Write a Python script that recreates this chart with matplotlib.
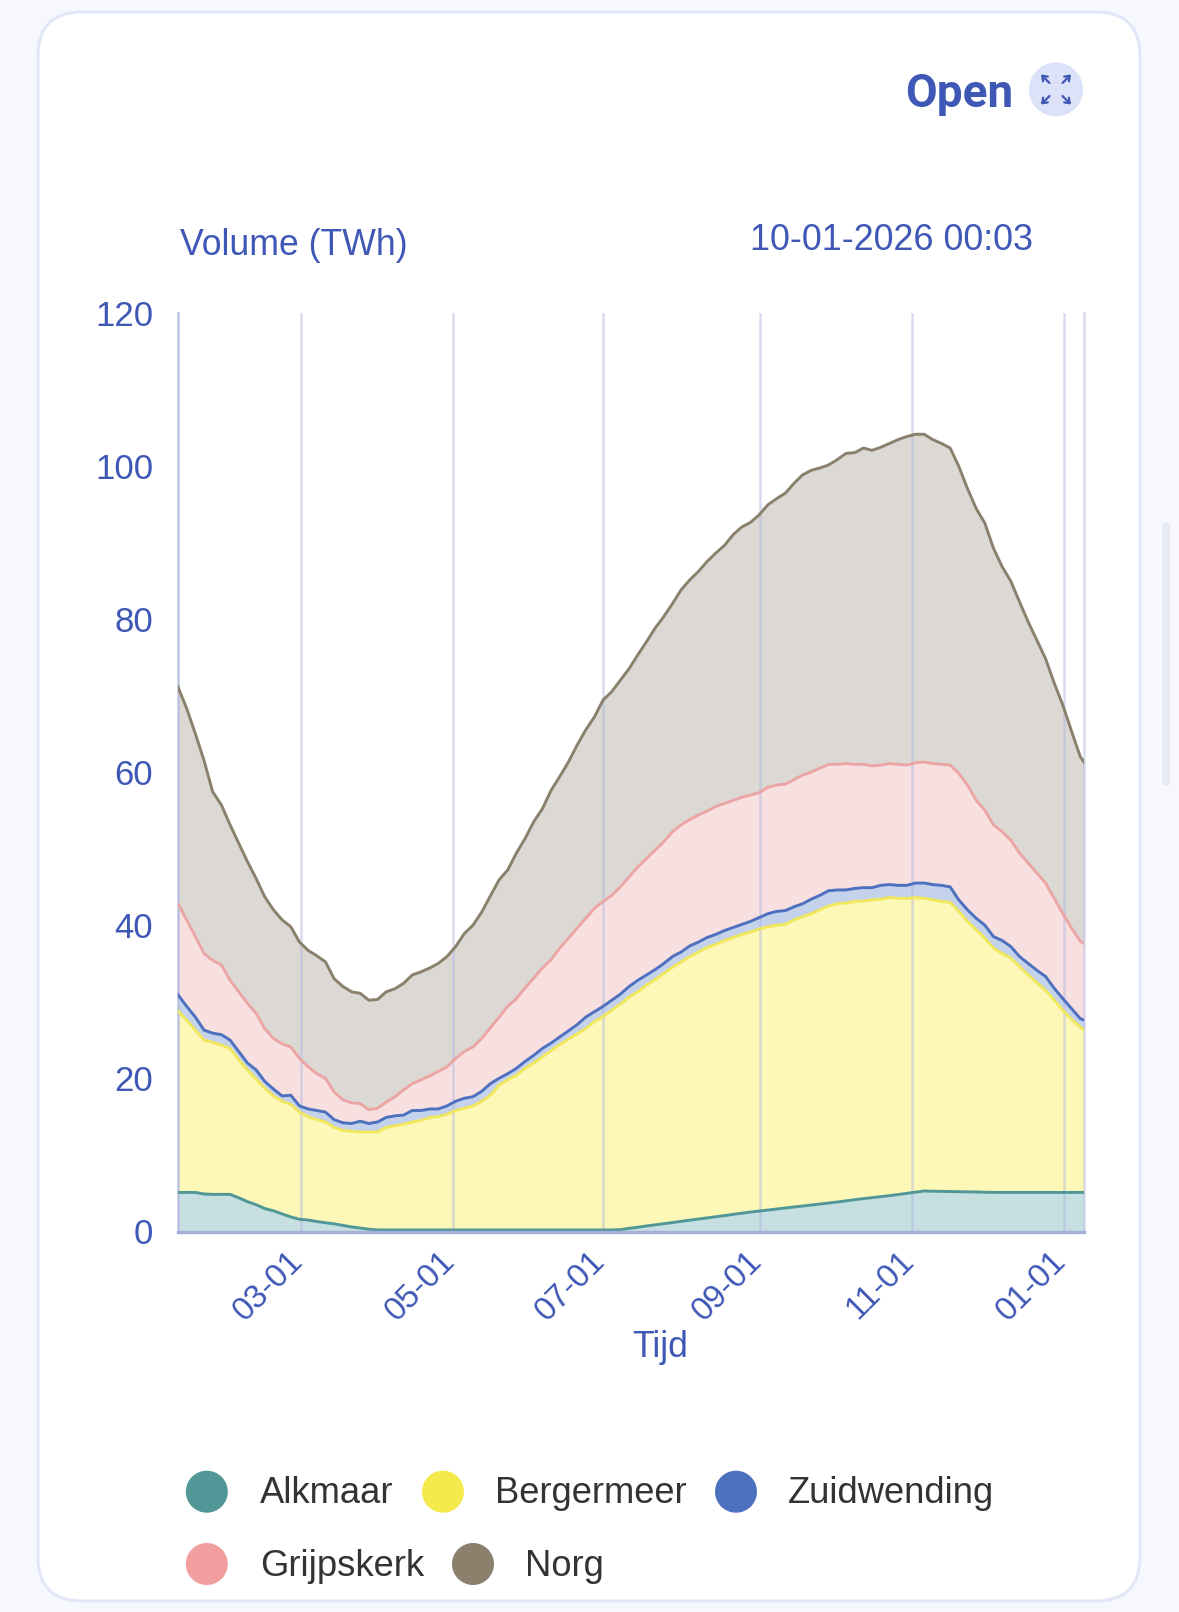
import numpy as np
import pandas as pd
import matplotlib
matplotlib.use("Agg")
import matplotlib.pyplot as plt
from matplotlib.patches import FancyBboxPatch, Circle
from matplotlib.transforms import ScaledTranslation

plt.rcParams['font.family'] = ['Liberation Sans', 'DejaVu Sans']

# Sample dates: readings about every 3.5 days plus the closing reading
start_date = pd.Timestamp('2025-01-10 12:00')
end_date = pd.Timestamp('2026-01-08 21:36')
dates = list(pd.date_range(start_date, periods=105, freq='5011min')) + [end_date]

# Readings of the stacked boundaries (TWh), bottom to top
alkmaar_stack = [5.1, 5.1, 5.1, 4.9, 4.85, 4.85, 4.85, 4.4, 3.9, 3.5, 3.0, 2.7, 2.3, 1.9, 1.6, 1.5, 1.3, 1.15, 1.0, 0.8,
                 0.6, 0.45, 0.3, 0.2, 0.2, 0.2, 0.2, 0.2, 0.2, 0.2, 0.2, 0.2, 0.2, 0.2, 0.2, 0.2, 0.2, 0.2, 0.2, 0.2,
                 0.2, 0.2, 0.2, 0.2, 0.2, 0.2, 0.2, 0.2, 0.2, 0.2, 0.2, 0.25, 0.41, 0.56, 0.72, 0.87, 1.02, 1.17, 1.33, 1.48,
                 1.63, 1.78, 1.93, 2.08, 2.24, 2.39, 2.54, 2.67, 2.8, 2.93, 3.07, 3.2, 3.33, 3.46, 3.59, 3.72, 3.85, 4.0, 4.16, 4.29,
                 4.42, 4.55, 4.68, 4.83, 4.98, 5.14, 5.29, 5.26, 5.24, 5.22, 5.2, 5.18, 5.16, 5.13, 5.11, 5.1, 5.1, 5.1, 5.1, 5.1,
                 5.1, 5.1, 5.1, 5.1, 5.1, 5.1]
bergermeer_stack = [28.8, 27.6, 26.3, 25.0, 24.7, 24.35, 23.9, 22.4, 21.1, 19.9, 18.7, 17.7, 17.0, 16.6, 15.6, 15.0, 14.6, 14.3, 13.6, 13.2,
                    13.1, 13.0, 13.0, 13.0, 13.6, 13.8, 14.0, 14.3, 14.5, 14.9, 15.0, 15.3, 15.8, 16.1, 16.4, 17.0, 17.8, 19.1, 19.8, 20.4,
                    21.3, 22.0, 22.8, 23.6, 24.4, 25.1, 25.8, 26.5, 27.4, 28.1, 28.9, 29.7, 30.6, 31.3, 32.2, 32.9, 33.7, 34.5, 35.2, 35.9,
                    36.5, 37.1, 37.5, 38.0, 38.4, 38.8, 39.1, 39.5, 39.8, 40.0, 40.1, 40.7, 41.1, 41.5, 42.0, 42.5, 42.8, 42.9, 43.1, 43.15,
                    43.3, 43.4, 43.6, 43.5, 43.5, 43.6, 43.5, 43.3, 43.1, 43.0, 41.8, 40.5, 39.4, 38.3, 37.0, 36.3, 35.7, 34.6, 33.5, 32.5,
                    31.5, 30.2, 28.9, 27.7, 26.7, 26.3]
zuidwending_stack = [30.9, 29.4, 28.0, 26.3, 25.9, 25.7, 25.0, 23.5, 22.0, 21.1, 19.6, 18.6, 17.7, 17.8, 16.4, 16.0, 15.8, 15.6, 14.6, 14.2,
                     14.1, 14.4, 14.1, 14.3, 14.9, 15.1, 15.2, 15.8, 15.8, 16.0, 16.0, 16.4, 17.0, 17.4, 17.6, 18.3, 19.3, 20.0, 20.6, 21.3,
                     22.2, 23.0, 23.9, 24.6, 25.4, 26.2, 27.0, 28.0, 28.7, 29.4, 30.2, 31.0, 32.0, 32.8, 33.5, 34.2, 35.0, 35.9, 36.5, 37.3,
                     37.8, 38.4, 38.8, 39.3, 39.7, 40.1, 40.5, 41.0, 41.5, 41.8, 41.9, 42.4, 42.8, 43.4, 43.9, 44.5, 44.6, 44.6, 44.8, 44.9,
                     44.9, 45.2, 45.3, 45.2, 45.2, 45.5, 45.5, 45.3, 45.2, 45.0, 43.3, 42.0, 40.9, 40.0, 38.5, 38.0, 37.2, 35.9, 35.0, 34.1,
                     33.3, 31.75, 30.4, 29.1, 27.8, 27.6]
grijpskerk_stack = [42.8, 40.7, 38.5, 36.3, 35.4, 34.8, 32.8, 31.3, 29.8, 28.5, 26.5, 25.2, 24.5, 24.1, 22.6, 21.5, 20.6, 20.0, 18.2, 17.2,
                    16.8, 16.7, 15.9, 16.1, 16.9, 17.6, 18.5, 19.3, 19.8, 20.3, 20.9, 21.5, 22.6, 23.5, 24.1, 25.2, 26.6, 27.96, 29.4, 30.4,
                    31.8, 33.1, 34.4, 35.5, 37.0, 38.3, 39.6, 40.9, 42.2, 43.1, 43.9, 45.0, 46.3, 47.6, 48.7, 49.8, 50.9, 52.2, 53.1, 53.8,
                    54.4, 54.9, 55.5, 55.9, 56.3, 56.7, 57.0, 57.3, 58.0, 58.3, 58.4, 59.0, 59.6, 60.0, 60.5, 61.0, 61.0, 61.1, 61.0, 61.0,
                    60.8, 60.9, 61.1, 61.0, 60.9, 61.2, 61.3, 61.1, 61.0, 60.9, 59.8, 58.3, 56.3, 55.0, 53.1, 52.2, 51.1, 49.4, 48.1, 46.8,
                    45.5, 43.5, 41.5, 39.6, 37.9, 37.6]
norg_stack = [71.1, 68.3, 65.0, 61.5, 57.4, 55.7, 53.1, 50.7, 48.3, 46.1, 43.7, 42.0, 40.7, 39.8, 37.8, 36.7, 36.0, 35.2, 33.0, 32.0,
              31.3, 31.1, 30.2, 30.3, 31.3, 31.7, 32.4, 33.5, 33.9, 34.4, 35.0, 35.9, 37.2, 38.9, 40.0, 41.7, 43.8, 45.9, 47.2, 49.4,
              51.3, 53.5, 55.2, 57.6, 59.4, 61.3, 63.5, 65.5, 67.2, 69.4, 70.5, 72.0, 73.5, 75.3, 77.0, 78.8, 80.3, 82.0, 83.8, 85.1,
              86.2, 87.5, 88.6, 89.6, 91.0, 92.0, 92.6, 93.6, 94.9, 95.7, 96.4, 97.7, 98.8, 99.4, 99.7, 100.1, 100.8, 101.6, 101.7, 102.3,
              102.0, 102.4, 102.9, 103.4, 103.8, 104.1, 104.1, 103.4, 102.9, 102.3, 99.9, 97.0, 94.4, 92.5, 89.2, 86.8, 84.9, 82.2, 79.6, 77.2,
              74.8, 71.6, 68.7, 65.3, 62.0, 61.3]

series_names = ['Alkmaar', 'Bergermeer', 'Zuidwending', 'Grijpskerk', 'Norg']
y_ticks = [0, 20, 40, 60, 80, 100, 120]
x_tick_dates = ['2025-03-01', '2025-05-01', '2025-06-30', '2025-09-01', '2025-11-01', '2026-01-01']
x_tick_labels = ['03-01', '05-01', '07-01', '09-01', '11-01', '01-01']

W, H = 1179, 1612
BLUE_TEXT = '#3F57B5'
LINES = ['#529797', '#F0E75C', '#4D70BF', '#EBA5A5', '#8A806C']
FILLS = ['#C6DFE0', '#FDF8B8', '#C5D2EC', '#F9E0E0', '#DCD9D5']
DOTS = ['#529797', '#F4EA4C', '#4D70BF', '#F09E9E', '#8A806C']

fig = plt.figure(figsize=(W / 100, H / 100), dpi=100, facecolor='#F6F8FE')

# Pixel overlay for the card and furniture
bg = fig.add_axes([0, 0, 1, 1], zorder=0)
bg.set_xlim(0, W); bg.set_ylim(H, 0); bg.axis('off')
bg.add_patch(FancyBboxPatch((38, 12), 1102, 1589, boxstyle='round,pad=0,rounding_size=44',
                            fc='white', ec='#E2E7F8', lw=2.2))
bg.add_patch(FancyBboxPatch((1162, 522), 8, 264, boxstyle='round,pad=0,rounding_size=4',
                            fc='#E8EBF4', ec='none'))

# Chart
L, R, T, B = 178, 1084, 312.5, 1231.5
ax = fig.add_axes([L / W, 1 - B / H, (R - L) / W, (B - T) / H], zorder=1)
ax.patch.set_alpha(0)
ax.set_xlim(start_date, end_date)
ax.set_ylim(0, 120)
for s in ax.spines.values():
    s.set_visible(False)

stacks = [alkmaar_stack, bergermeer_stack, zuidwending_stack, grijpskerk_stack, norg_stack]
lower = np.zeros(len(dates))
for vals, fc in zip(stacks, FILLS):
    ax.fill_between(dates, lower, vals, color=fc, lw=0, zorder=1)
    lower = np.array(vals)

for d in x_tick_dates:
    ax.axvline(pd.Timestamp(d), color='#B0B9E0', alpha=0.5, lw=1.8, zorder=2)
ax.axvline(start_date, color='#B4BEDF', alpha=0.9, lw=1.8, zorder=2, clip_on=False)
ax.axvline(end_date, color='#B0B9E0', alpha=0.5, lw=1.8, zorder=2, clip_on=False)

for vals, lc in zip(stacks, LINES):
    ax.plot(dates, vals, color=lc, lw=2.1, zorder=3, solid_joinstyle='round')

ax.axhline(0, color='#A5AEDB', lw=2.4, zorder=4, clip_on=False, solid_capstyle='projecting')

ax.set_yticks(y_ticks)
ax.set_yticklabels([str(v) for v in y_ticks])
ax.tick_params(axis='y', length=0, pad=18, labelsize=25, labelcolor=BLUE_TEXT)
ax.set_xticks([pd.Timestamp(d) for d in x_tick_dates])
ax.set_xticklabels(x_tick_labels, rotation=45, ha='right', va='top', rotation_mode='anchor')
ax.tick_params(axis='x', length=0, pad=10, labelsize=23.8, labelcolor=BLUE_TEXT)
shift = ScaledTranslation(-14 / 100, 0, fig.dpi_scale_trans)
for lab in ax.get_xticklabels():
    lab.set_transform(lab.get_transform() + shift)

# Overlay for text above everything
fg = fig.add_axes([0, 0, 1, 1], zorder=2)
fg.set_xlim(0, W); fg.set_ylim(H, 0); fg.axis('off'); fg.patch.set_alpha(0)

fg.text(180, 255, 'Volume (TWh)', fontsize=25.7, color=BLUE_TEXT, va='baseline')
fg.text(750, 250.5, '10-01-2026 00:03', fontsize=25.8, color=BLUE_TEXT, va='baseline')
fg.text(632, 1357, 'Tijd', fontsize=25.7, color=BLUE_TEXT, va='baseline')
fg.text(905, 107, 'Open', fontsize=33, fontweight='bold', family='Roboto', color=BLUE_TEXT, va='baseline')

# Expand icon
cx, cy = 1056, 89.5
fg.add_patch(Circle((cx, cy), 27, fc='#DCE3F8', ec='none'))
for sx in (-1, 1):
    for sy in (-1, 1):
        fg.annotate('', xy=(cx + sx * 15, cy + sy * 15), xytext=(cx + sx * 6.5, cy + sy * 6.5),
                    arrowprops=dict(arrowstyle='->,head_length=0.32,head_width=0.24', color=BLUE_TEXT, lw=1.6,
                                    shrinkA=0, shrinkB=0))

# Legend
legend_dot_x = [206.8, 443, 736, 206.8, 473]
legend_text_x = [259.8, 494.5, 788, 259.8, 524.5]
legend_row_y = [1491.7, 1491.7, 1491.7, 1564, 1564]
for name, dc, dx, tx, ry in zip(series_names, DOTS, legend_dot_x, legend_text_x, legend_row_y):
    fg.add_patch(Circle((dx, ry), 21, fc=dc, ec='none'))
    fg.text(tx, ry + 11.5, name, fontsize=26.2, color='#333333', va='baseline')

fig.savefig('out.png', dpi=100, facecolor=fig.get_facecolor())
